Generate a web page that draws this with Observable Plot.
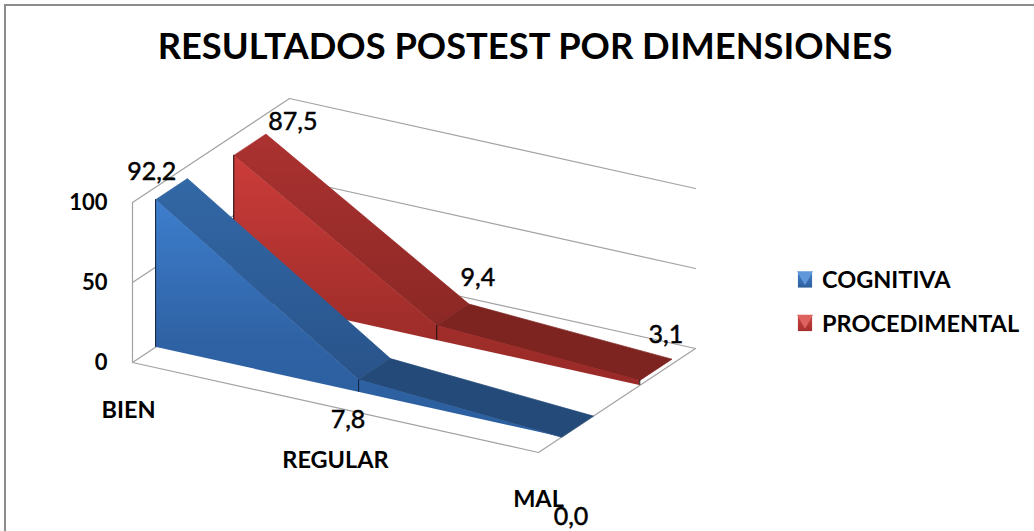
<!DOCTYPE html>
<html><head><meta charset="utf-8">
<script src="https://cdn.jsdelivr.net/npm/d3@7"></script>
<script src="https://cdn.jsdelivr.net/npm/@observablehq/plot@0.6"></script>
<style>
html,body{margin:0;padding:0;background:#fff;overflow:hidden}
#frame{position:absolute;left:4px;top:4px;width:1030px;height:527px;border-left:2px solid #8c8c8c;border-top:2px solid #8c8c8c;box-sizing:border-box}
#title{position:absolute;left:0;width:1050px;top:23px;height:44px;text-align:center;font:700 36.3px/44px Lato,sans-serif;color:#000;white-space:nowrap}
#chart{position:absolute;left:0;top:80px}
svg{display:block}
</style></head>
<body>
<div id="frame"></div>
<div id="title">RESULTADOS POSTEST POR DIMENSIONES</div>
<div id="chart"></div>
<script>
const categories = ["BIEN", "REGULAR", "MAL"];
const seriesNames = ["COGNITIVA", "PROCEDIMENTAL"];
const cognitiva = [92.2, 7.8, 0.0];
const procedimental = [87.5, 9.4, 3.1];
const valueTicks = [0, 50, 100];

// Oblique 3D projection of the chart box: u along categories, d into depth, v value
const ORIGIN = [132, 362], AX_U = [406, 90], AX_D = [157, -104], AX_V = 1.6;
const project = (u, d, v) => ({
  x: ORIGIN[0] + u * AX_U[0] + d * AX_D[0],
  y: ORIGIN[1] + u * AX_U[1] + d * AX_D[1] - v * AX_V
});
const us = categories.map((_, i) => i / (categories.length - 1));
const fmt = v => v.toFixed(1).replace(".", ",");
const polys = (pts) => pts.map(p => project(...p));

function seriesMarks(values, d0, d1, g, edge) {
  const front = values.map((v, i) => {
    const t = project(us[i], d0, v), b = project(us[i], d0, 0);
    return {x: t.x, yt: t.y, yb: b.y};
  });
  const seg = i => polys([[us[i], d0, values[i]], [us[i], d1, values[i]], [us[i + 1], d1, values[i + 1]], [us[i + 1], d0, values[i + 1]], [us[i], d0, values[i]]]);
  return [
    Plot.line(seg(0), {x: "x", y: "y", fill: `url(#${g}Top0)`, stroke: `url(#${g}Top0)`, strokeWidth: 0.7, curve: "linear"}),
    Plot.line(seg(1), {x: "x", y: "y", fill: `url(#${g}Top1)`, stroke: `url(#${g}Top1)`, strokeWidth: 0.7, curve: "linear"}),
    Plot.area(front, {x1: "x", y1: "yb", y2: "yt", fill: `url(#${g}Front)`, curve: "linear"}),
    Plot.ruleX(front.filter(f => f.yb - f.yt > 1), {x: "x", y1: "yb", y2: "yt", stroke: edge, strokeWidth: 1})
  ];
}

const gridColor = "#a2a2a2";
const grid = [];
for (const v of valueTicks) {
  grid.push(Plot.line(polys([[0, 0, v], [0, 1, v], [1, 1, v]]), {x: "x", y: "y", stroke: gridColor, strokeWidth: 1.2}));
}
grid.push(Plot.line(polys([[0, 0, 100], [0, 0, 0], [1, 0, 0], [1, 1, 0]]), {x: "x", y: "y", stroke: gridColor, strokeWidth: 1.2}));

function defs() {
  const s = d3.create("svg:defs");
  const grad = (id, stops) => {
    const g = s.append("linearGradient").attr("id", id).attr("x1", 0).attr("y1", 0).attr("x2", 0).attr("y2", 1);
    stops.forEach(([o, c]) => g.append("stop").attr("offset", o).attr("stop-color", c));
  };
  grad("blueFront", [[0, "#3d7ecd"], [0.6, "#2f62a4"], [1, "#2c5f9f"]]);
  grad("blueTop0", [[0, "#3268a6"], [1, "#29538a"]]);
  grad("blueTop1", [[0, "#244a79"], [1, "#244a79"]]);
  grad("redFront", [[0, "#cc3c3a"], [0.7, "#a22e2b"], [1, "#992a27"]]);
  grad("redTop0", [[0, "#ab3230"], [1, "#8b2825"]]);
  grad("redTop1", [[0, "#7d2320"], [1, "#7d2320"]]);
  grad("blueKey", [[0, "#3f7cc6"], [1, "#2e5f9c"]]);
  grad("redKey", [[0, "#c9423f"], [1, "#a52f2c"]]);
  return s.node();
}

// Text placement relative to the projected anchors
const tickLabels = valueTicks.map(v => ({...project(0, 0, v), t: String(v)}));
const catOffsets = [[-4, 48], [0, 53], [0, 47]];
const catLabels = categories.map((c, i) => {
  const p = project(us[i], 0, 0);
  return {x: p.x + catOffsets[i][0], y: p.y + catOffsets[i][1], t: c};
});
const valOffsets = [[[-3.8, -27.7], [-10.6, 39.8], [9.4, 79.3]], [[59.2, -33.4], [41.2, -46.9], [26.2, -45]]];
const valLabels = [[cognitiva, 0.147], [procedimental, 0.645]].flatMap(([vals, d], s) =>
  vals.map((v, i) => {
    const p = project(us[i], d, v);
    return {x: p.x + valOffsets[s][i][0], y: p.y + valOffsets[s][i][1], t: fmt(v)};
  }));
const legend = seriesNames.map((n, i) => ({n, key: ["blueKey", "redKey"][i], lit: ["#5f97da", "#de6360"][i], y: 280 + i * 43.5}));

const chart = Plot.plot({
  width: 1034, height: 451,
  margin: 0,
  x: {type: "linear", domain: [0, 1034], range: [0, 1034], axis: null},
  y: {type: "linear", domain: [80, 531], range: [0, 451], axis: null},
  style: {background: "transparent"},
  marks: [
    defs,
    ...grid,
    ...seriesMarks(procedimental, 0.645, 0.85, "red", "#14100f"),
    ...seriesMarks(cognitiva, 0.147, 0.35, "blue", "#152338"),
    Plot.text(tickLabels, {x: d => d.x - 25, y: "y", text: "t", textAnchor: "end", fontSize: 22, fontWeight: 700, fontFamily: "Lato", fill: "#000"}),
    Plot.text(catLabels, {x: "x", y: "y", text: "t", fontSize: 23.5, fontWeight: 700, fontFamily: "Lato", fill: "#000"}),
    Plot.text(valLabels, {x: "x", y: "y", text: "t", fontSize: 25, fontWeight: 400, fontFamily: "Lato", fill: "#000", stroke: "#000", strokeWidth: 0.5}),
    Plot.dot(legend, {x: 804.5, y: "y", symbol: "square", r: 8, fill: d => `url(#${d.key})`, stroke: "none"}),
    Plot.dot(legend, {x: 804.5, y: d => d.y - 4.5, symbol: "triangle", r: 6, rotate: 180, fill: "lit", stroke: "none"}),
    Plot.text(legend, {x: 821.5, y: "y", text: "n", textAnchor: "start", fontSize: 23.5, fontWeight: 700, fontFamily: "Lato", fill: "#000"})
  ]
});
document.getElementById("chart").append(chart);
</script>
</body></html>
